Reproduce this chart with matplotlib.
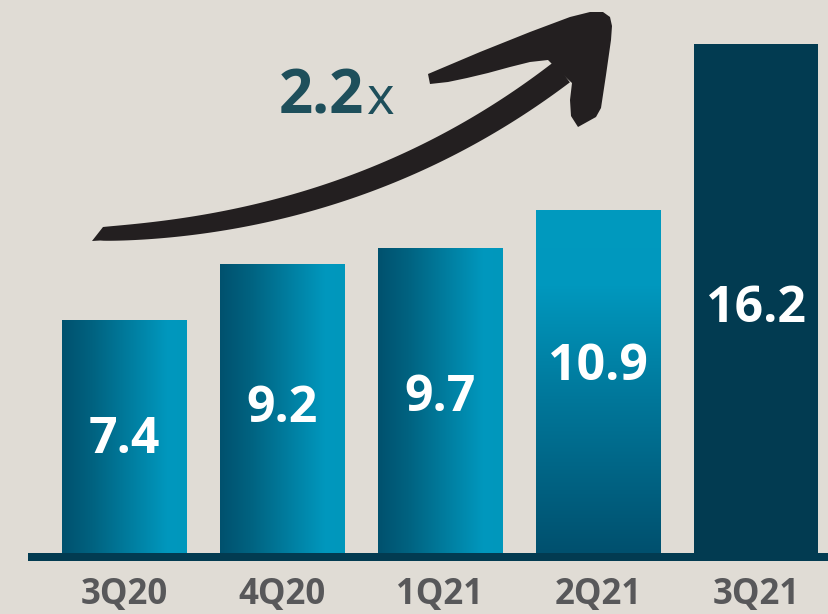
import numpy as np
import matplotlib
matplotlib.use("Agg")
import matplotlib.pyplot as plt
from matplotlib.colors import LinearSegmentedColormap
from matplotlib.patches import Polygon, Rectangle
from matplotlib import transforms

# ---- data ----
quarters = ["3Q20", "4Q20", "1Q21", "2Q21", "3Q21"]
values = [7.4, 9.2, 9.7, 10.9, 16.2]
value_labels = ["7.4", "9.2", "9.7", "10.9", "16.2"]
growth_label = "2.2"

# ---- styling ----
W, H = 829, 614
BG = "#E0DCD5"
DARK = "#023B51"
FONT = "Open Sans"

fig = plt.figure(figsize=(W / 100, H / 100), dpi=100)
fig.patch.set_facecolor(BG)

base_px = 554          # baseline (pixels from top)
px_per_unit = 31.5
spacing_px = 158
first_center_px = 124

ax = fig.add_axes([0, (H - base_px) / H, 1, base_px / H])
ax.set_facecolor("none")
ax.axis("off")

bar_w = 0.785
horiz = LinearSegmentedColormap.from_list(
    "horiz", [(0, "#00516E"), (0.25, "#006381"), (0.85, "#0098BE"), (1, "#0097BC")])
vert = LinearSegmentedColormap.from_list(
    "vert", [(0, "#00506E"), (0.45, "#00779A"), (0.78, "#0098BE"), (1, "#009ABF")])

grad = np.linspace(0, 1, 256)
for i, v in enumerate(values):
    x0, x1 = i - bar_w / 2, i + bar_w / 2
    if i < 3:
        ax.imshow(grad[None, :], cmap=horiz, extent=(x0, x1, 0, v),
                  aspect="auto", origin="lower", interpolation="bilinear")
    elif i == 3:
        ax.imshow(grad[:, None], cmap=vert, extent=(x0, x1, 0, v),
                  aspect="auto", origin="lower", interpolation="bilinear")
    else:
        ax.bar(i, v, width=bar_w, color=DARK, linewidth=0)

ax.set_xlim(-first_center_px / spacing_px, (W - first_center_px) / spacing_px)
ax.set_ylim(0, base_px / px_per_unit)

# value labels inside the bars
label_frac = [0.49, 0.50, 0.51, 0.545, 0.48]
for i, (v, lab) in enumerate(zip(values, value_labels)):
    ax.text(i, v * label_frac[i], lab, ha="center", va="center",
            color="white", fontsize=36, fontweight="bold", family=FONT)

# baseline rule
fig.add_artist(Rectangle((28 / W, (H - 561) / H), (W - 28) / W, 8 / H,
                         transform=fig.transFigure, color=DARK, linewidth=0))

# category labels
blend = transforms.blended_transform_factory(ax.transData, fig.transFigure)
for i, q in enumerate(quarters):
    ax.text(i, (H - 604) / H, q, transform=blend, ha="center", va="baseline",
            color="#58585A", fontsize=25, fontweight="bold", family=FONT)


# growth arrow, drawn in pixel space
def to_fig(pts):
    pts = np.asarray(pts, dtype=float)
    return np.column_stack([pts[:, 0] / W, 1 - pts[:, 1] / H])


t = np.linspace(0, 1, 120)
P0, P1, P2, P3 = (np.array(p, dtype=float) for p in
                  [(100, 234), (230, 229), (400, 196), (562, 72)])
b0, b1, b2, b3 = (1 - t) ** 3, 3 * (1 - t) ** 2 * t, 3 * (1 - t) * t ** 2, t ** 3
centre = np.outer(b0, P0) + np.outer(b1, P1) + np.outer(b2, P2) + np.outer(b3, P3)
deriv = (np.outer(3 * (1 - t) ** 2, P1 - P0) + np.outer(6 * (1 - t) * t, P2 - P1)
         + np.outer(3 * t ** 2, P3 - P2))
normal = np.column_stack([-deriv[:, 1], deriv[:, 0]])
normal /= np.linalg.norm(normal, axis=1)[:, None]
half = (13 + 13 * t ** 0.6) / 2
upper = centre + normal * half[:, None]
lower = centre - normal * half[:, None]
# slanted tail cut
shaft = np.vstack([[(92, 241)], lower[1:], upper[::-1]])
fig.add_artist(Polygon(to_fig(shaft), closed=True, transform=fig.transFigure,
                       facecolor="#231F20", edgecolor="none"))

head = [(428, 74), (480, 52), (530, 32), (570, 17), (590, 12), (603, 12),
        (610, 17), (612, 26), (611, 40), (606, 75), (601, 108), (596, 117),
        (578, 127), (571, 116), (570, 100), (572, 83), (560, 72),
        (548, 60), (530, 62), (510, 67), (488, 73), (467, 78), (448, 82), (430, 84)]
fig.add_artist(Polygon(to_fig(head), closed=True, transform=fig.transFigure,
                       facecolor="#231F20", edgecolor="none"))

# growth multiple
fig.text(364 / W, 1 - 114 / H, growth_label, ha="right", va="baseline",
         color="#1E4F5B", fontsize=43, fontweight="bold", family=FONT)
fig.text(367 / W, 1 - 114 / H, "x", ha="left", va="baseline",
         color="#1E4F5B", fontsize=38, family=FONT)

fig.savefig("out.png", dpi=100, facecolor=BG)
